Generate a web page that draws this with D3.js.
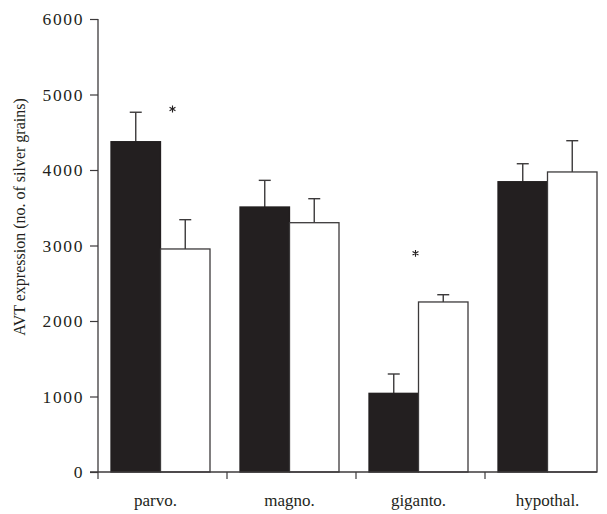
<!DOCTYPE html>
<html>
<head>
<meta charset="utf-8">
<script src="https://cdnjs.cloudflare.com/ajax/libs/d3/7.8.5/d3.min.js"></script>
<style>
  body { margin: 0; background: #fff; }
  text { font-family: "Liberation Serif", "DejaVu Serif", serif; fill: #231f20; }
</style>
</head>
<body>
<svg id="chart" width="607" height="514"></svg>
<script>
var categories = ["parvo.", "magno.", "giganto.", "hypothal."],
    series = ["black", "white"],
    blackValues = [4375, 3510, 1042, 3845],
    blackErrors = [390, 353, 256, 238],
    whiteValues = [2954, 3302, 2252, 3974],
    whiteErrors = [388, 318, 96, 414],
    starCats = ["parvo.", "giganto."],
    starValues = [4808, 2897],
    yTicks = [0, 1000, 2000, 3000, 4000, 5000, 6000];

var svg = d3.select("#chart"),
    plotLeft = 98, plotBottom = 472, plotTop = 19;

var y = d3.scaleLinear().domain([0, 6000]).range([plotBottom, plotTop]);
var x0 = d3.scaleBand().domain(categories).range([plotLeft, plotLeft + 4 * 129]);
var x1 = d3.scaleBand().domain(series).range([13, 112]);

var rows = [];
categories.forEach(function (c, i) {
    rows.push({cat: c, s: "black", v: blackValues[i], e: blackErrors[i]});
    rows.push({cat: c, s: "white", v: whiteValues[i], e: whiteErrors[i]});
});

// error bars first, bars on top
var err = svg.append("g").attr("stroke", "#3c3a3b").attr("stroke-width", 1.4);
rows.forEach(function (d) {
    var cx = x0(d.cat) + x1(d.s) + x1.bandwidth() / 2;
    err.append("line").attr("x1", cx).attr("x2", cx)
        .attr("y1", y(d.v)).attr("y2", y(d.v + d.e));
    err.append("line").attr("x1", cx - 6).attr("x2", cx + 6)
        .attr("y1", y(d.v + d.e)).attr("y2", y(d.v + d.e));
});

svg.append("g").selectAll("rect").data(rows).enter().append("rect")
    .attr("x", function (d) { return x0(d.cat) + x1(d.s); })
    .attr("y", function (d) { return y(d.v); })
    .attr("width", x1.bandwidth())
    .attr("height", function (d) { return plotBottom - y(d.v); })
    .attr("fill", function (d) { return d.s === "black" ? "#231f20" : "#fff"; })
    .attr("stroke", function (d) { return d.s === "black" ? "#231f20" : "#3c3a3b"; })
    .attr("stroke-width", 1.3);

// y axis
var yAxis = svg.append("g").attr("transform", "translate(" + plotLeft + ",0)")
    .call(d3.axisLeft(y).tickValues(yTicks).tickSize(8).tickPadding(6).tickFormat(d3.format("d")));
yAxis.select(".domain").attr("stroke", "#3c3a3b").attr("stroke-width", 1.3).attr("d", "M0," + plotBottom + "V" + plotTop);
yAxis.selectAll(".tick line").attr("stroke", "#3c3a3b").attr("stroke-width", 1.2);
yAxis.selectAll(".tick text").style("font-size", "17.5px").style("letter-spacing", "1.6px")
    .attr("fill", "#231f20").attr("dy", "0.34em")
    .style("font-family", "'Liberation Serif', 'DejaVu Serif', serif");

// x axis
var xEnd = x0(categories[3]) + x1("white") + x1.bandwidth();
svg.append("line").attr("x1", plotLeft - 8).attr("x2", xEnd).attr("y1", plotBottom).attr("y2", plotBottom)
    .attr("stroke", "#3c3a3b").attr("stroke-width", 1.3);
svg.append("g").selectAll("line").data(categories).enter().append("line")
    .attr("x1", function (d) { return x0(d); }).attr("x2", function (d) { return x0(d); })
    .attr("y1", plotBottom).attr("y2", plotBottom + 7)
    .attr("stroke", "#3c3a3b").attr("stroke-width", 1.2);
svg.append("g").selectAll("text").data(categories).enter().append("text")
    .attr("x", function (d, i) { return x0(d) + x0.bandwidth() / 2 - (i === 0 ? 7 : 2); })
    .attr("y", 506)
    .attr("text-anchor", "middle")
    .style("font-size", "17px")
    .text(function (d) { return d; });

// y label
svg.append("text")
    .attr("transform", "translate(25,217) rotate(-90)")
    .attr("text-anchor", "middle")
    .style("font-size", "16px")
    .text("AVT expression (no. of silver grains)");

// significance stars
var starDx = [12, -3];
svg.append("g").selectAll("path").data(starCats).enter().append("path")
    .attr("transform", function (d, i) {
        return "translate(" + (x0(d) + x1("white") + starDx[i]) + "," + y(starValues[i]) + ")";
    })
    .attr("d", d3.symbol().type(d3.symbolAsterisk).size(32))
    .attr("stroke", "#231f20").attr("stroke-width", 1.1).attr("fill", "none");
</script>
</body>
</html>
